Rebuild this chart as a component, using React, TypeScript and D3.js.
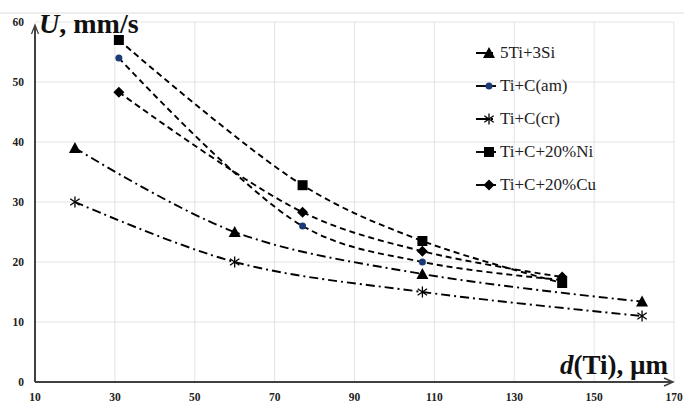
import React from "react";
import * as d3 from "d3";

const seriesNames = ["5Ti+3Si", "Ti+C(am)", "Ti+C(cr)", "Ti+C+20%Ni", "Ti+C+20%Cu"];
const x5Ti3Si = [20, 60, 107, 162];
const y5Ti3Si = [39, 25, 18, 13.4];
const xTiCam = [31, 77, 107, 142];
const yTiCam = [54, 26, 20, 17];
const xTiCcr = [20, 60, 107, 162];
const yTiCcr = [30, 20, 15, 11];
const xTiCNi = [31, 77, 107, 142];
const yTiCNi = [57, 32.8, 23.5, 16.5];
const xTiCCu = [31, 77, 107, 142];
const yTiCCu = [48.3, 28.3, 21.8, 17.5];

const xTicks = [10, 30, 50, 70, 90, 110, 130, 150, 170];
const yTicks = [0, 10, 20, 30, 40, 50, 60];

const W = 684;
const H = 403;

const markers = ["triangle", "circle", "asterisk", "square", "diamond"];
const dashes = ["9,4,2,4", "6,4", "9,4,2,4", "6,4", "6,4"];
const markerColors = ["#000", "#1c3a78", "#000", "#000", "#000"];

function Marker({ type, cx, cy, color }: { type: string; cx: number; cy: number; color: string }) {
  if (type === "square") return <rect x={cx - 5} y={cy - 5} width={10} height={10} fill={color} />;
  if (type === "circle") return <circle cx={cx} cy={cy} r={3.5} fill={color} />;
  if (type === "diamond")
    return <path d={`M${cx},${cy - 5.5}L${cx + 5.5},${cy}L${cx},${cy + 5.5}L${cx - 5.5},${cy}Z`} fill={color} />;
  if (type === "triangle")
    return <path d={`M${cx},${cy - 6}L${cx + 6},${cy + 5}L${cx - 6},${cy + 5}Z`} fill={color} />;
  const r = 5.5;
  return (
    <g stroke={color} strokeWidth={1.3}>
      <line x1={cx} y1={cy - r} x2={cx} y2={cy + r} />
      <line x1={cx - r * 0.85} y1={cy - r * 0.6} x2={cx + r * 0.85} y2={cy + r * 0.6} />
      <line x1={cx - r * 0.85} y1={cy + r * 0.6} x2={cx + r * 0.85} y2={cy - r * 0.6} />
    </g>
  );
}

export default function App() {
  const x = d3.scaleLinear().domain([10, 170]).range([35, 674]);
  const y = d3.scaleLinear().domain([0, 60]).range([382, 22]);

  const xs = [x5Ti3Si, xTiCam, xTiCcr, xTiCNi, xTiCCu];
  const ys = [y5Ti3Si, yTiCam, yTiCcr, yTiCNi, yTiCCu];

  const line = d3
    .line<[number, number]>()
    .x((d) => x(d[0]))
    .y((d) => y(d[1]))
    .curve(d3.curveCatmullRom.alpha(0.5));

  const legendY = [53, 86, 119, 152, 185];
  const font = "Liberation Serif, Times New Roman, DejaVu Serif, serif";
  const ts = { fontFamily: font };

  return (
    <svg width={W} height={H} style={{ position: "absolute", left: 0, top: 0, background: "#fff" }}>
      <rect x={0} y={0} width={W} height={H} fill="#fff" />
      <line x1={0} y1={13} x2={W} y2={13} stroke="#dcdcdc" strokeWidth={1} />
      {yTicks.slice(1).map((t) => (
        <line key={"gy" + t} x1={x(10)} x2={x(170)} y1={y(t)} y2={y(t)} stroke="#e3e3e3" strokeWidth={1} />
      ))}
      {xTicks.slice(1).map((t) => (
        <line key={"gx" + t} x1={x(t)} x2={x(t)} y1={y(0)} y2={y(60)} stroke="#e3e3e3" strokeWidth={1} />
      ))}
      {seriesNames.map((n, i) => {
        const pts = xs[i].map((v, j) => [v, ys[i][j]] as [number, number]);
        return (
          <path key={"l" + n} d={line(pts) || ""} fill="none" stroke="#000" strokeWidth={1.9} strokeDasharray={dashes[i]} />
        );
      })}
      {seriesNames.map((n, i) =>
        xs[i].map((v, j) => (
          <Marker key={n + j} type={markers[i]} cx={x(v)} cy={y(ys[i][j])} color={markerColors[i]} />
        ))
      )}
      <line x1={x(10)} y1={y(0)} x2={x(170) - 2} y2={y(0)} stroke="#404040" strokeWidth={2} />
      <path d={`M${x(170) - 10},${y(0) - 4}L${x(170) - 1},${y(0)}L${x(170) - 10},${y(0) + 4}`} fill="none" stroke="#404040" strokeWidth={1.5} />
      <line x1={x(10)} y1={y(0)} x2={x(10)} y2={y(60) + 4} stroke="#404040" strokeWidth={2} />
      <path d={`M${x(10) - 3.5},${y(60) + 12}L${x(10)},${y(60) + 3}L${x(10) + 3.5},${y(60) + 12}`} fill="none" stroke="#404040" strokeWidth={1.3} />
      {yTicks.map((t) => (
        <text key={"ty" + t} x={24} y={y(t) + 4} textAnchor="end" style={ts} fontWeight="bold" fontSize={11.5} fill="#222">
          {t}
        </text>
      ))}
      {xTicks.map((t) => (
        <text key={"tx" + t} x={x(t)} y={401} textAnchor="middle" style={ts} fontWeight="bold" fontSize={11.5} fill="#222">
          {t}
        </text>
      ))}
      <text x={39} y={33} style={ts} fontWeight="bold" fontSize={28} fill="#111">
        <tspan fontStyle="italic">U</tspan>, mm/s
      </text>
      <text x={668} y={374} textAnchor="end" style={ts} fontWeight="bold" fontSize={27} fill="#111">
        <tspan fontStyle="italic">d</tspan>(Ti), µm
      </text>
      {seriesNames.map((n, i) => (
        <g key={"lg" + n}>
          <line x1={476} x2={496} y1={legendY[i]} y2={legendY[i]} stroke="#000" strokeWidth={1.9} strokeDasharray={i === 0 || i === 2 ? "12,3,2,3" : "20,0"} />
          <Marker type={markers[i]} cx={489} cy={legendY[i]} color={markerColors[i]} />
          <text x={500} y={legendY[i] + 5} style={ts} fontSize={17} fill="#222">
            {n}
          </text>
        </g>
      ))}
    </svg>
  );
}
